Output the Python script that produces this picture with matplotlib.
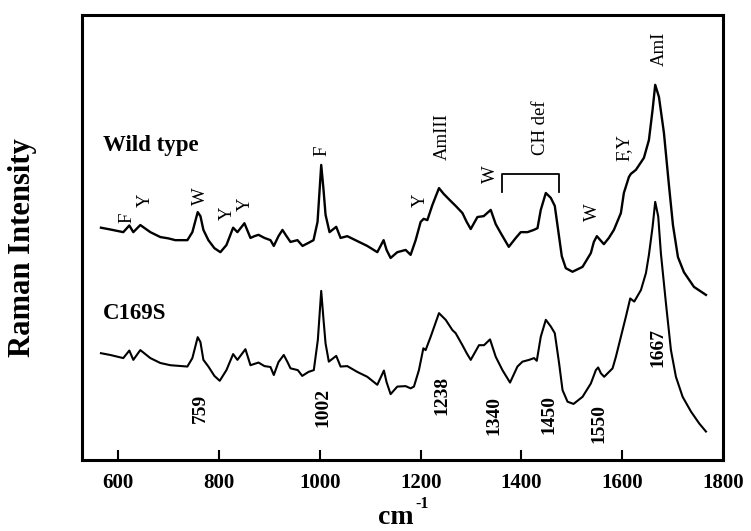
import numpy as np
import matplotlib
matplotlib.use("Agg")
import matplotlib.pyplot as plt

plt.rcParams["font.family"] = ["Liberation Serif", "DejaVu Serif"]

# wavenumber (cm-1) and intensity (arb. units)
wt_wn = [565.6, 584.1, 609.9, 621.9, 629.8, 643.7, 663.6, 683.4, 699.3, 713.2,
         737.1, 747.0, 757.6, 763.0, 768.9, 778.8, 790.7, 802.6, 814.6, 827.9,
         836.4, 850.3, 862.3, 870.2, 878.2, 890.1, 902.0, 908.6, 917.9, 925.8,
         933.8, 941.7, 955.6, 965.6, 977.5, 987.4, 995.4, 1002.7, 1007.3, 1011.3,
         1019.2, 1032.5, 1041.1, 1054.4, 1074.2, 1094.1, 1114.0, 1120.5, 1126.5, 1132.4,
         1140.4, 1153.7, 1170.2, 1180.1, 1190.1, 1200.0, 1206.0, 1213.3, 1223.3, 1236.4,
         1245.7, 1259.6, 1269.5, 1282.9, 1291.4, 1299.4, 1312.7, 1325.2, 1339.1, 1349.0,
         1358.9, 1374.9, 1388.8, 1398.7, 1412.0, 1424.5, 1431.9, 1438.4, 1448.4, 1458.3,
         1466.2, 1474.2, 1480.1, 1488.1, 1501.4, 1521.3, 1537.8, 1543.7, 1549.7, 1563.6,
         1573.5, 1583.5, 1597.4, 1603.3, 1613.3, 1617.2, 1627.2, 1643.1, 1653.0, 1660.3,
         1665.5, 1672.9, 1682.8, 1692.7, 1700.7, 1710.6, 1722.5, 1742.4, 1766.2]
wt_int = [52.2, 51.8, 51.2, 52.7, 51.2, 52.8, 51.2, 50.1, 49.8, 49.4,
          49.4, 51.2, 55.7, 54.8, 51.7, 49.4, 47.6, 46.7, 48.3, 52.2,
          51.2, 53.2, 49.9, 50.3, 50.6, 49.9, 49.4, 48.1, 50.3, 51.7,
          50.3, 49.0, 49.4, 48.1, 48.8, 49.4, 53.5, 66.3, 60.7, 55.1,
          51.2, 52.4, 49.9, 50.3, 49.2, 48.1, 46.7, 48.1, 49.4, 47.2,
          45.4, 46.7, 47.2, 46.1, 49.4, 53.5, 54.2, 53.9, 57.3, 61.1,
          59.8, 58.2, 57.1, 55.5, 53.5, 51.9, 54.6, 54.8, 56.2, 53.0,
          51.0, 47.9, 49.9, 51.2, 51.2, 51.7, 52.1, 56.2, 60.0, 58.9,
          57.1, 50.6, 45.8, 43.1, 42.3, 43.4, 46.5, 49.0, 50.3, 48.5,
          49.9, 51.7, 55.5, 60.0, 63.6, 64.3, 65.2, 67.9, 71.9, 78.7,
          84.3, 81.6, 73.5, 61.8, 52.8, 45.6, 42.2, 38.9, 37.1]

mut_wn = [565.6, 584.1, 609.9, 621.9, 629.8, 643.7, 663.6, 683.4, 703.3, 737.1,
          747.0, 757.6, 763.0, 768.9, 778.8, 790.7, 801.3, 814.6, 827.9, 836.4,
          852.3, 862.3, 878.2, 890.1, 902.0, 908.6, 917.9, 928.4, 935.8, 941.7,
          956.2, 965.0, 977.5, 988.0, 996.0, 1002.7, 1007.3, 1011.3, 1017.8, 1032.5,
          1041.1, 1054.4, 1074.2, 1094.1, 1114.0, 1127.1, 1132.4, 1140.4, 1153.7, 1170.2,
          1180.1, 1186.7, 1196.6, 1205.4, 1209.9, 1219.9, 1236.4, 1249.7, 1263.0, 1269.5,
          1282.9, 1291.4, 1299.4, 1315.8, 1325.8, 1337.7, 1349.0, 1362.3, 1377.4, 1392.1,
          1402.1, 1415.2, 1425.1, 1430.5, 1438.4, 1448.4, 1458.3, 1466.2, 1474.8, 1481.6,
          1491.5, 1503.4, 1521.3, 1537.8, 1547.7, 1552.3, 1557.6, 1564.2, 1580.9, 1587.5,
          1597.4, 1607.3, 1615.9, 1623.9, 1637.2, 1647.1, 1653.0, 1660.3, 1665.5, 1671.5,
          1676.8, 1686.8, 1696.7, 1706.6, 1719.9, 1736.4, 1752.9, 1766.2]
mut_int = [24.0, 23.6, 22.9, 24.6, 22.5, 24.7, 22.9, 21.8, 21.3, 21.0,
           22.9, 27.6, 26.5, 22.5, 21.0, 18.9, 17.8, 20.2, 23.8, 22.5,
           24.9, 21.3, 21.9, 21.1, 20.9, 19.1, 22.0, 23.6, 22.0, 20.6,
           20.2, 18.9, 19.8, 20.2, 27.0, 38.0, 31.5, 26.2, 22.1, 23.4,
           21.0, 21.1, 19.8, 18.7, 16.9, 20.1, 17.5, 14.8, 16.5, 16.6,
           16.1, 16.5, 20.2, 25.1, 24.7, 27.7, 33.0, 31.5, 29.2, 28.5,
           25.8, 24.0, 22.5, 25.8, 25.8, 27.1, 23.2, 20.2, 17.4, 21.0,
           22.1, 22.5, 22.9, 22.3, 27.7, 31.5, 30.0, 28.5, 21.7, 15.7,
           13.1, 12.6, 14.2, 17.2, 20.2, 20.8, 19.5, 18.7, 20.6, 23.2,
           27.7, 32.2, 36.3, 35.6, 38.2, 42.0, 46.1, 52.4, 58.0, 54.7,
           46.4, 35.2, 24.7, 18.7, 14.2, 10.9, 8.2, 6.4]

# band assignments on the wild type trace: label, wavenumber, height
band_labels = ["F", "Y", "W", "Y", "Y", "F", "Y", "AmIII", "W", "CH def", "W", "F,Y", "AmI"]
band_wn = [617, 654, 763, 816, 852, 1004, 1200, 1243, 1339, 1438, 1541, 1604, 1673]
band_y = [54.4, 58.4, 59.3, 55.5, 57.5, 69.4, 58.4, 72.6, 64.3, 74.6, 55.7, 70.3, 92.4]

# peak positions marked under the C169S trace
peak_labels = ["759", "1002", "1238", "1340", "1450", "1550", "1667"]
peak_wn = [763, 1006.5, 1243, 1344.5, 1455, 1554, 1670]
peak_y = [11.7, 11.9, 14.4, 9.9, 10.3, 8.1, 25.3]

xticks = [600, 800, 1000, 1200, 1400, 1600, 1800]

fig = plt.figure(figsize=(7.51, 5.31), dpi=100)
ax = fig.add_axes([0.1092, 0.1337, 0.8535, 0.8381])

ax.plot(wt_wn, wt_int, color="black", lw=1.7)
ax.plot(mut_wn, mut_int, color="black", lw=1.5)

ax.set_xlim(528, 1800)
ax.set_ylim(0, 100)
ax.set_xticks(xticks)
ax.set_xticklabels([str(t) for t in xticks], fontsize=15, fontweight="bold")
ax.set_yticks([])
ax.tick_params(axis="x", direction="in", length=7, width=1.5, pad=9)
for s in ax.spines.values():
    s.set_linewidth(2.2)

for lab, x, y in zip(band_labels, band_wn, band_y):
    ax.text(x, y, lab, rotation=90, ha="center", va="center", fontsize=13.5)

# CH def bracket
ax.plot([1362, 1362, 1475, 1475], [60.3, 64.3, 64.3, 60.3], color="black", lw=1.3)

for lab, x, y in zip(peak_labels, peak_wn, peak_y):
    ax.text(x, y, lab, rotation=90, ha="center", va="center", fontsize=14, fontweight="bold")

ax.text(570, 70.6, "Wild type", ha="left", va="center", fontsize=16.5, fontweight="bold")
ax.text(570, 33.0, "C169S", ha="left", va="center", fontsize=16.5, fontweight="bold")

fig.text(23 / 751, 1 - 248 / 531, "Raman Intensity", rotation=90, ha="center", va="center",
         fontsize=22, fontweight="bold")
fig.text(396 / 751, 1 - 524 / 531, "cm", ha="center", va="baseline", fontsize=20, fontweight="bold")
fig.text(415 / 751, 1 - 504 / 531, "-1", ha="left", va="center", fontsize=11.5, fontweight="bold")

fig.savefig("out.png", dpi=100)
